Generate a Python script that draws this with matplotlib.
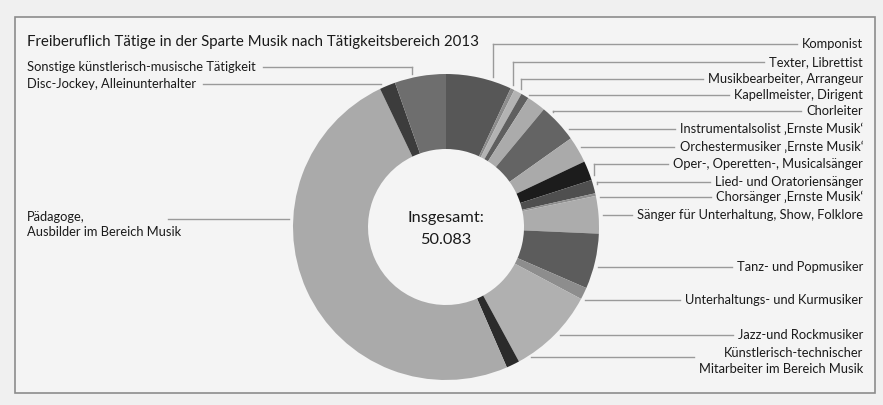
import numpy as np
import matplotlib
matplotlib.use("Agg")
import matplotlib.pyplot as plt
from matplotlib.patches import Rectangle

plt.rcParams['font.family'] = ['Lato', 'DejaVu Sans']

# Freiberuflich Tätige in der Sparte Musik 2013 (im Uhrzeigersinn ab 12 Uhr)
categories = [
    'Komponist', 'Texter, Librettist', 'Musikbearbeiter, Arrangeur',
    'Kapellmeister, Dirigent', 'Chorleiter', 'Instrumentalsolist ‚Ernste Musik‘',
    'Orchestermusiker ‚Ernste Musik‘', 'Oper-, Operetten-, Musicalsänger',
    'Lied- und Oratoriensänger', 'Chorsänger ‚Ernste Musik‘',
    'Sänger für Unterhaltung, Show, Folklore', 'Tanz- und Popmusiker',
    'Unterhaltungs- und Kurmusiker', 'Jazz-und Rockmusiker',
    'Künstlerisch-technischer\nMitarbeiter im Bereich Musik',
    'Pädagoge,\nAusbilder im Bereich Musik', 'Disc-Jockey, Alleinunterhalter',
    'Sonstige künstlerisch-musische Tätigkeit',
]
values = [3480, 210, 420, 420, 1000, 2070, 1400, 1030, 720, 140,
          1980, 2920, 630, 4660, 700, 24753, 840, 2710]
colors = ['#575757', '#8c8c8c', '#b3b3b3', '#5f5f5f', '#ababab', '#646464',
          '#aaaaaa', '#1c1c1c', '#4f4f4f', '#8f8f8f', '#acacac', '#5c5c5c',
          '#8d8d8d', '#b0b0b0', '#2b2b2b', '#aaaaaa', '#3c3c3c', '#6e6e6e']

W, H = 883, 405
CX, CY, R = 446, 227, 153      # Lage des Rings in Pixeln (von oben gemessen)
HOLE = 78
GAP = 4
TXT = '#1a1a1a'
LINE = '#9a9a9a'
FS = 9.3

def Y(y):
    return H - y

fig = plt.figure(figsize=(W / 100, H / 100), dpi=100, facecolor='#f0f0f0')
ax = fig.add_axes([0, 0, 1, 1])
ax.pie(values, colors=colors, startangle=90, counterclock=False,
       radius=R, center=(CX, Y(CY)),
       wedgeprops=dict(width=R - HOLE, linewidth=0))
ax.set_xlim(0, W)
ax.set_ylim(0, H)
ax.set_aspect('equal')
ax.axis('off')

ax.add_patch(Rectangle((15, Y(393)), 860, 376, facecolor='#f4f4f4',
                       edgecolor='#8c8c8c', linewidth=1.2, zorder=-5))

ax.text(27, Y(42), 'Freiberuflich Tätige in der Sparte Musik nach Tätigkeitsbereich 2013',
        fontsize=10.8, color=TXT, va='center', ha='left')

total = sum(values)
ax.text(CX, Y(218), 'Insgesamt:', fontsize=11.8, color=TXT, ha='center', va='center')
ax.text(CX, Y(240), f'{total:,}'.replace(',', '.'), fontsize=11.8, color=TXT,
        ha='center', va='center')

# Beschriftungen rechts: (Index, Text-y, Linien-y, x der senkrechten Linie)
right = [(0, 44, 44, 493), (1, 62, 62, 513), (2, 79, 79, 521), (3, 95, 95, 529),
         (4, 111, 111, 553), (5, 129, 129, None), (6, 147, 147, None),
         (7, 164, 164, 594), (8, 182, 182, 597), (9, 197, 197, None),
         (10, 215, 215, None), (11, 267, 267, None), (12, 300, 300, None),
         (13, 335, 335, None), (14, 361, 357, 531)]
# links: (Index, Text-y, Linien-y, x der senkrechten Linie, Linienstart)
left = [(17, 67, 67, 412, None), (16, 84, 84, None, None),
        (15, 224.5, 219, None, 168)]

fig.canvas.draw()
renderer = fig.canvas.get_renderer()
inv = ax.transData.inverted()

def edge_y(x, yl):
    h = np.sqrt(max((R + GAP) ** 2 - (x - CX) ** 2, 0))
    return CY - h if yl < CY else CY + h

def edge_x(yl, side):
    w = np.sqrt(max((R + GAP) ** 2 - (yl - CY) ** 2, 0))
    return CX + side * w

for i, yt, yl, xd in right:
    t = ax.text(863, Y(yt), categories[i], fontsize=FS, color=TXT,
                ha='right', va='center', linespacing=1.35)
    bb = t.get_window_extent(renderer)
    x_end = inv.transform((bb.x0, 0))[0] - 5
    if xd is None:
        x0 = edge_x(yl, 1)
    else:
        x0 = xd
        ye = edge_y(xd, yl)
        if abs(ye - CY) < abs(yl - CY):
            ax.plot([xd, xd], [Y(yl), Y(ye)], color=LINE, lw=1)
    ax.plot([x0, x_end], [Y(yl), Y(yl)], color=LINE, lw=1)

for i, yt, yl, xd, xs in left:
    t = ax.text(27, Y(yt), categories[i], fontsize=FS, color=TXT,
                ha='left', va='center', linespacing=1.35)
    bb = t.get_window_extent(renderer)
    x_start = xs if xs is not None else inv.transform((bb.x1, 0))[0] + 7
    if xd is None:
        x1 = edge_x(yl, -1)
    else:
        x1 = xd
        ye = edge_y(xd, yl)
        ax.plot([xd, xd], [Y(yl), Y(ye)], color=LINE, lw=1)
    ax.plot([x_start, x1], [Y(yl), Y(yl)], color=LINE, lw=1)

fig.savefig('out.png', dpi=100, facecolor=fig.get_facecolor())
